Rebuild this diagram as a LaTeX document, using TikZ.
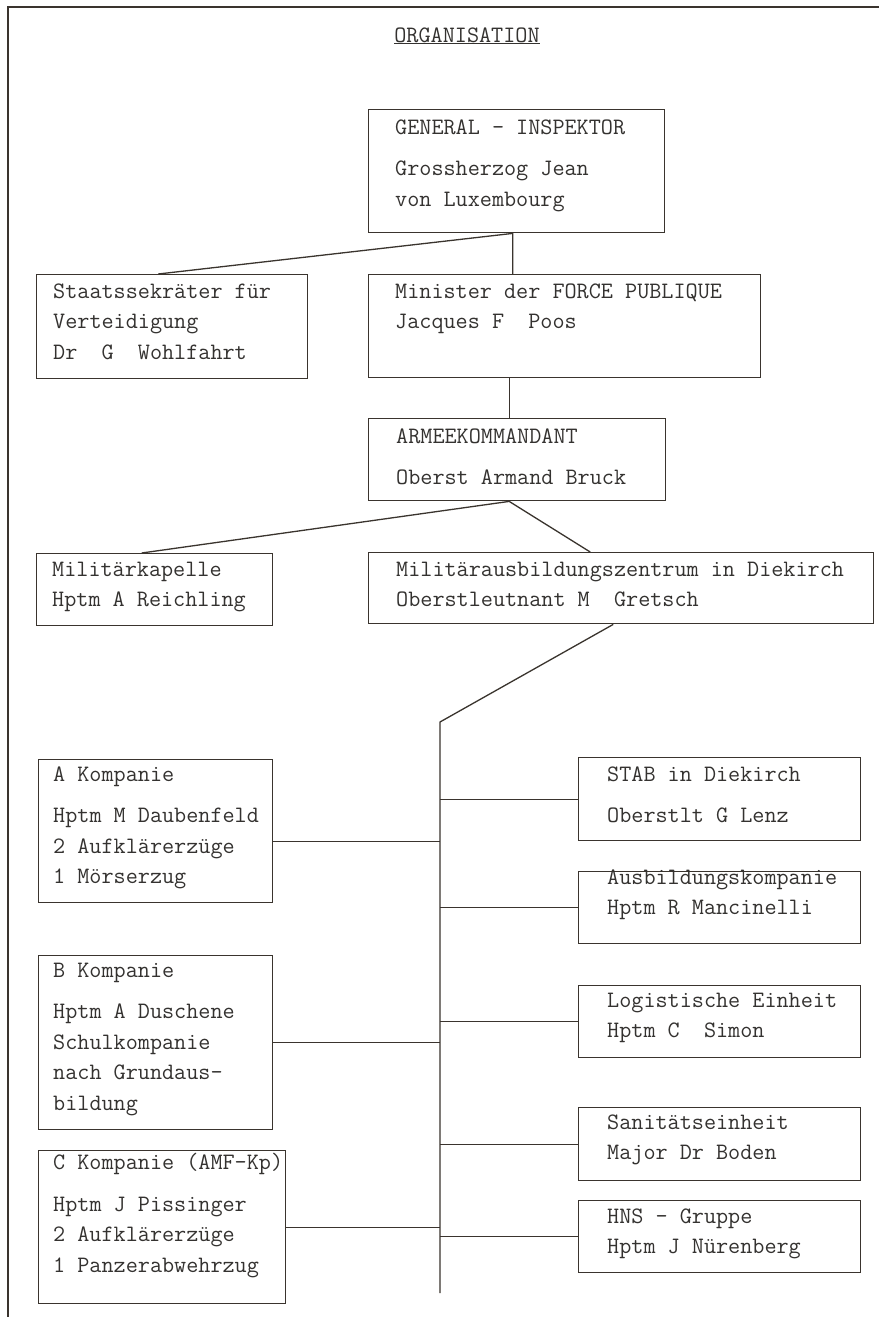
\documentclass[tikz,border=0pt]{standalone}
\usepackage{fontspec}
\usetikzlibrary{positioning, calc}
\definecolor{ink}{RGB}{58,52,46}
\definecolor{typeGray}{RGB}{52,50,48}

\begin{document}
\begin{tikzpicture}[x=1pt, y=-1pt,
  frame/.style={draw=ink, line width=2pt},
  unit/.style={draw=ink, line width=1.4pt, anchor=north west, inner sep=0pt},
  txt/.style={font=\ttfamily\fontsize{23.5}{30.5}\selectfont, text=typeGray, align=left,
    anchor=north west, inner sep=0pt},
  link/.style={draw=ink, line width=1.3pt}
]
\fill[white] (0,0) rectangle (879,1317);
\useasboundingbox (0,0) rectangle (879,1317);
\draw[frame] (8,1317) -- (8,7) -- (879,7);

\node[txt, anchor=base] (title) at (467,42) {\underline{ORGANISATION}};

% command levels
\node[unit, minimum width=296, minimum height=123] (gi) at (368,109) {};
\node[txt] (gi-t) at ([xshift=27pt, yshift=-10.6pt]gi.north west)
  {GENERAL - INSPEKTOR\\[11pt]Grossherzog Jean\\von Luxembourg};
\node[unit, minimum width=271, minimum height=104] (ss) at (36,274) {};
\node[txt] (ss-t) at ([xshift=17pt, yshift=-9.6pt]ss.north west)
  {Staatssekräter für\\Verteidigung\\Dr~~G~~Wohlfahrt};
\node[unit, minimum width=392, minimum height=103] (fp) at (368,274) {};
\node[txt] (fp-t) at ([xshift=27pt, yshift=-9.6pt]fp.north west)
  {Minister der FORCE PUBLIQUE\\Jacques F~~Poos};
\node[unit, minimum width=297, minimum height=82] (ak) at (368,418) {};
\node[txt] (ak-t) at ([xshift=28pt, yshift=-10.6pt]ak.north west)
  {ARMEEKOMMANDANT\\[11pt]Oberst Armand Bruck};
\node[unit, minimum width=236, minimum height=72] (mk) at (36,553) {};
\node[txt] (mk-t) at ([xshift=16pt, yshift=-8.6pt]mk.north west)
  {Militärkapelle\\Hptm A Reichling};
\node[unit, minimum width=505, minimum height=71] (maz) at (368,552) {};
\node[txt] (maz-t) at ([xshift=28pt, yshift=-9.6pt]maz.north west)
  {Militärausbildungszentrum in Diekirch\\Oberstleutnant M~~Gretsch};

\coordinate (gi-foot) at ([xshift=-4pt]gi.south);
\draw[link] ([xshift=-14pt]ss.north) -- (gi-foot) -- (gi-foot |- fp.north);
\coordinate (ak-top) at ([xshift=-8pt]ak.north);
\draw[link] (ak-top |- fp.south) -- (ak-top);
\coordinate (ak-foot) at ([xshift=-8pt]ak.south);
\draw[link] ([xshift=-13pt]mk.north) -- (ak-foot) -- ([xshift=-31pt]maz.north);

% trunk of the training centre
\coordinate (trunk-top) at (440,722);
\coordinate (trunk-bot) at (440,1293);
\draw[link] ([xshift=-8pt]maz.south) -- (trunk-top) -- (trunk-bot);

% companies, left side
\node[unit, minimum width=234, minimum height=143] (kpa) at (38,759) {};
\node[txt] (kpa-t) at ([xshift=15pt, yshift=-7.6pt]kpa.north west)
  {A Kompanie\\[11pt]Hptm M Daubenfeld\\2 Aufklärerzüge\\1 Mörserzug};
\node[unit, minimum width=234, minimum height=174] (kpb) at (38,955) {};
\node[txt] (kpb-t) at ([xshift=15pt, yshift=-7.6pt]kpb.north west)
  {B Kompanie\\[11pt]Hptm A Duschene\\Schulkompanie\\nach Grundaus-\\bildung};
\node[unit, minimum width=247, minimum height=153] (kpc) at (38,1150) {};
\node[txt] (kpc-t) at ([xshift=15pt, yshift=-3.4pt]kpc.north west)
  {C Kompanie (AMF-Kp)\\[11pt]Hptm J Pissinger\\2 Aufklärerzüge\\1 Panzerabwehrzug};

% units, right side
\node[unit, minimum width=282, minimum height=83] (stab) at (578,757) {};
\node[txt] (stab-t) at ([xshift=29pt, yshift=-9.6pt]stab.north west)
  {STAB in Diekirch\\[11pt]Oberstlt G Lenz};
\node[unit, minimum width=282, minimum height=72] (ausb) at (578,871) {};
\node[txt] (ausb-t) at ([xshift=29pt, yshift=1.4pt]ausb.north west)
  {Ausbildungskompanie\\Hptm R Mancinelli};
\node[unit, minimum width=282, minimum height=72] (lgst) at (578,985) {};
\node[txt] (lgst-t) at ([xshift=29pt, yshift=-7.6pt]lgst.north west)
  {Logistische Einheit\\Hptm C~~Simon};
\node[unit, minimum width=282, minimum height=73] (sani) at (578,1107) {};
\node[txt] (sani-t) at ([xshift=29pt, yshift=-7.6pt]sani.north west)
  {Sanitätseinheit\\Major Dr Boden};
\node[unit, minimum width=282, minimum height=72] (hns) at (578,1200) {};
\node[txt] (hns-t) at ([xshift=29pt, yshift=-8.6pt]hns.north west)
  {HNS - Gruppe\\Hptm J Nürenberg};

% branches off the trunk
\draw[link] ([yshift=-10pt]kpa.east) -- ([yshift=-10pt]kpa.east -| trunk-top);
\foreach \u in {kpb, kpc}{
  \draw[link] (\u.east) -- (\u.east -| trunk-top);
}
\foreach \u in {stab, ausb, lgst, sani, hns}{
  \draw[link] (\u.west -| trunk-top) -- (\u.west);
}
\end{tikzpicture}
\end{document}
